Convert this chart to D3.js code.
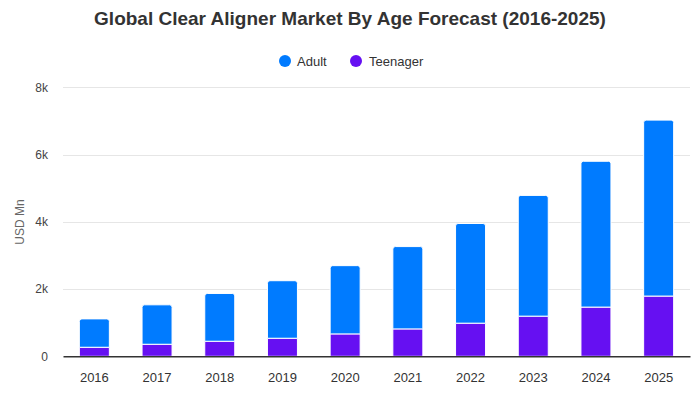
<!DOCTYPE html>
<html><head><meta charset="utf-8">
<script src="https://cdn.jsdelivr.net/npm/d3@7"></script>
<style>body{margin:0;background:#fff}svg{display:block;font-family:"Liberation Sans",Arial,sans-serif}</style>
</head><body><svg id="c" width="700" height="400"></svg>
<script>
const years = ["2016","2017","2018","2019","2020","2021","2022","2023","2024","2025"];
const teenager = [269, 358, 448, 537, 666, 815, 985, 1194, 1463, 1791];
const adult = [844, 1173, 1421, 1711, 2030, 2448, 2964, 3591, 4337, 5233];
const yTicks = [0, 2000, 4000, 6000, 8000];
const seriesNames = ["Adult", "Teenager"];
const colors = {Adult: "#007bff", Teenager: "#6610f2"};

const svg = d3.select("#c");
const m = {l: 63, r: 10, t: 88, b: 44};
const W = 700, H = 400;
const x = d3.scaleBand().domain(years).range([m.l, W - m.r]).padding(0);
const y = d3.scaleLinear().domain([0, 8000]).range([356.3, 87.3]);

svg.append("text").attr("x", 350).attr("y", 25).attr("text-anchor", "middle")
  .attr("font-size", 19).attr("font-weight", "bold").attr("fill", "#333")
  .text("Global Clear Aligner Market By Age Forecast (2016-2025)");

// legend
const leg = svg.append("g");
const legPos = [{cx: 285, tx: 297}, {cx: 356, tx: 369}];
seriesNames.forEach((s, i) => {
  leg.append("circle").attr("cx", legPos[i].cx).attr("cy", 61).attr("r", 6).attr("fill", colors[s]);
  leg.append("text").attr("x", legPos[i].tx).attr("y", 65.5).attr("font-size", 13).attr("fill", "#333").text(s);
});

// gridlines
const yAxis = d3.axisLeft(y).tickValues(yTicks).tickSize(0).tickPadding(15)
  .tickFormat(d => d === 0 ? "0" : (d / 1000) + "k");
const gy = svg.append("g").attr("transform", `translate(${m.l},0)`).call(yAxis);
gy.select(".domain").remove();
gy.selectAll("text").attr("font-size", 12).attr("fill", "#444").attr("font-family", "Liberation Sans, Arial, sans-serif");
svg.append("g").selectAll("line").data(yTicks.filter(d => d > 0)).join("line")
  .attr("x1", m.l).attr("x2", W - m.r).attr("y1", d => Math.round(y(d)) + 0.5).attr("y2", d => Math.round(y(d)) + 0.5)
  .attr("stroke", "#e6e6e6").attr("stroke-width", 1);

svg.append("text").attr("transform", `translate(24,222) rotate(-90)`).attr("text-anchor", "middle")
  .attr("font-size", 12).attr("fill", "#666").text("USD Mn");

// bars
const stackData = years.map((yr, i) => ({year: yr, Teenager: teenager[i], Adult: adult[i]}));
const stack = d3.stack().keys(["Teenager", "Adult"])(stackData);
const bw = 30;
const rr = 2.5;
function topRounded(x0, y0, w, h, r) {
  return `M${x0},${y0 + h}V${y0 + r}Q${x0},${y0} ${x0 + r},${y0}H${x0 + w - r}Q${x0 + w},${y0} ${x0 + w},${y0 + r}V${y0 + h}Z`;
}
stack.forEach(layer => {
  const key = layer.key;
  svg.append("g").selectAll("path").data(layer).join("path")
    .attr("fill", colors[key])
    .attr("stroke", "#fff").attr("stroke-width", 1)
    .attr("d", d => {
      const cx = x(d.data.year) + x.bandwidth() / 2;
      const x0 = cx - bw / 2;
      const y0 = y(d[1]), y1 = y(d[0]);
      if (key === "Adult") return topRounded(x0, y0, bw, y1 - y0, rr);
      return `M${x0},${y1}V${y0}H${x0 + bw}V${y1}Z`;
    });
});

// x axis
const xAxis = d3.axisBottom(x).tickSize(0).tickPadding(16);
const gx = svg.append("g").attr("transform", `translate(0,${356.3})`).call(xAxis);
gx.select(".domain").attr("stroke", "#333").attr("stroke-width", 1.5);
gx.selectAll("text").attr("font-size", 13).attr("fill", "#333").attr("font-family", "Liberation Sans, Arial, sans-serif");
</script></body></html>
